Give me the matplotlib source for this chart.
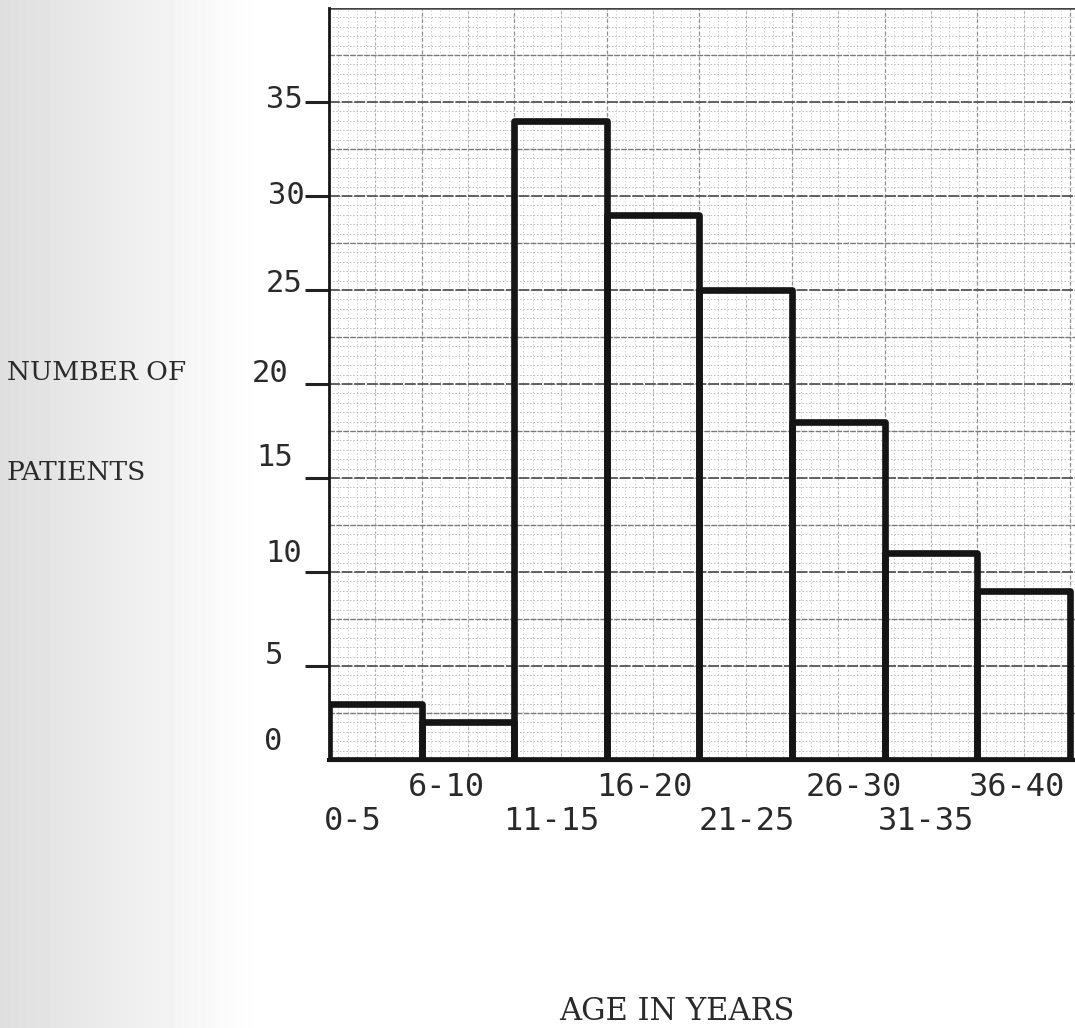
import numpy as np
import matplotlib
matplotlib.use("Agg")
import matplotlib.pyplot as plt

# --- DATA ---
age_groups = ["0-5", "6-10", "11-15", "16-20", "21-25", "26-30", "31-35", "36-40"]
patients = [3, 2, 34, 29, 25, 18, 11, 9]
y_ticks = [0, 5, 10, 15, 20, 25, 30, 35]

# --- LAYOUT (pixels of a 1075x1028 canvas) ---
W, H = 1075, 1028
ax_left, ax_bottom, ax_top = 329, 760, 8
bar_px = 92.6

fig = plt.figure(figsize=(W / 100, H / 100), dpi=100)
fig.patch.set_facecolor("white")

# scanner shadow on the left edge
bg = fig.add_axes([0, 0, 1, 1], zorder=-10)
px = np.arange(W)
shade = np.clip(0.87 + 0.13 * px / 260.0, 0, 1)[None, :]
bg.imshow(shade, cmap="gray", vmin=0, vmax=1, aspect="auto", extent=[0, 1, 0, 1])
bg.set_xlim(0, 1)
bg.axis("off")

ax = fig.add_axes([ax_left / W, (H - ax_bottom) / H, (W - ax_left) / W, (ax_bottom - ax_top) / H])
ax.set_facecolor("white")
n = len(age_groups)
ax.set_xlim(0, (W - ax_left) / bar_px)
ax.set_ylim(0, 40)

# --- graph paper ---
xmax = ax.get_xlim()[1]
for x in np.arange(0.1, xmax, 0.1):
    ax.axvline(x, color="#c2c2c2", lw=0.7, ls=(0, (1, 2.5)), zorder=1)
for x in np.arange(0.5, xmax, 1.0):
    ax.axvline(x, color="#b0b0b0", lw=0.8, ls=(0, (2, 2)), zorder=1)
for x in np.arange(1, xmax, 1.0):
    ax.axvline(x, color="#8e8e8e", lw=0.9, ls=(0, (3, 2)), zorder=1)
for y in np.arange(0.5, 40, 0.5):
    ax.axhline(y, color="#bababa", lw=0.7, ls=(0, (1.5, 2)), zorder=1)
for y in np.arange(2.5, 40, 5):
    ax.axhline(y, color="#7a7a7a", lw=1.0, ls=(0, (4, 1)), zorder=2)
for y in np.arange(5, 40, 5):
    ax.axhline(y, color="#555555", lw=1.3, ls=(0, (6, 1)), zorder=2)
ax.axhline(40, color="#444444", lw=1.8, zorder=2)

# --- histogram bars ---
bars = ax.bar(np.arange(n), patients, width=1, align="edge", fill=False,
              edgecolor="#151515", linewidth=4.8, zorder=5)
for b in bars:
    b.set_joinstyle("round")

# --- axes frame ---
for s in ["top", "right"]:
    ax.spines[s].set_visible(False)
ax.spines["left"].set_linewidth(2.0)
ax.spines["bottom"].set_linewidth(3.0)
ax.spines["left"].set_color("#151515")
ax.spines["bottom"].set_color("#151515")
ax.spines["bottom"].set_zorder(6)

ax.set_yticks([t for t in y_ticks if t > 0])
ax.set_yticklabels([])
ax.tick_params(axis="y", length=17, width=2.2, direction="out", color="#222222")
ax.set_xticks([])

# y tick labels (hand-typed, slightly irregular placement)
y_off = {35: (-26, 3), 30: (-24, 0), 25: (-27, 7), 20: (-40, 11),
         15: (-36, 21), 10: (-27, 18), 5: (-46, 11), 0: (-47, 18)}
for v in y_ticks:
    dx, dy = y_off[v]
    ax.annotate(str(v), xy=(0, v), xycoords=("axes fraction", "data"),
                xytext=(dx, dy), textcoords="offset pixels", ha="right", va="center",
                fontsize=22, family="DejaVu Sans Mono", color="#2a2a2a",
                annotation_clip=False)

# x labels, staggered in two rows
x_off = [-23, -22, -9, -9, 1, 15, -5, -7]
for i, lab in enumerate(age_groups):
    dy = -28 if i % 2 else -62
    ax.annotate(lab, xy=(i + 0.5, 0), xycoords="data", xytext=(x_off[i], dy),
                textcoords="offset pixels", ha="center", va="center",
                fontsize=23, family="DejaVu Sans Mono", color="#2a2a2a",
                annotation_clip=False)

# axis titles
fig.text(7 / W, 1 - 372 / H, "NUMBER OF", ha="left", va="center",
         fontsize=19, family="DejaVu Serif", color="#2a2a2a")
fig.text(7 / W, 1 - 473 / H, "PATIENTS", ha="left", va="center",
         fontsize=19, family="DejaVu Serif", color="#2a2a2a")
fig.text(677 / W, 1 - 1011 / H, "AGE IN YEARS", ha="center", va="center",
         fontsize=22, family="DejaVu Serif", color="#2a2a2a")

fig.savefig("out.png", dpi=100)
